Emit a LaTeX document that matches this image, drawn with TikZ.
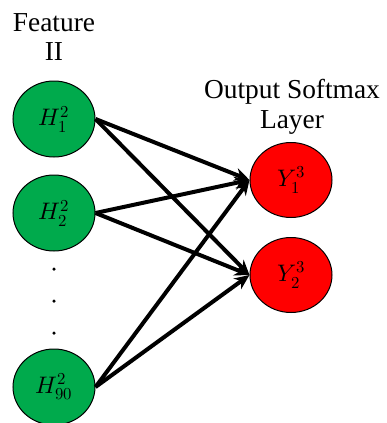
\documentclass[tikz,border=0pt]{standalone}
\usepackage{fontspec}
\usepackage{unicode-math}
\setmainfont{Liberation Serif}
\setmathfont{Latin Modern Math}
\usetikzlibrary{shapes.geometric,arrows.meta}
\begin{document}
\begin{tikzpicture}[x=1bp,y=-1bp,
  hid/.style={ellipse,draw=black,line width=1bp,fill={rgb,255:red,0;green,170;blue,76},minimum width=82bp,minimum height=76bp,inner sep=0pt,font=\fontsize{24}{26}\selectfont},
  outn/.style={ellipse,draw=black,line width=1bp,fill={rgb,255:red,255;green,0;blue,0},minimum width=82bp,minimum height=75bp,inner sep=0pt,font=\fontsize{24}{26}\selectfont},
  lbl/.style={align=center,font=\fontsize{27.5}{30}\selectfont},
  conn/.style={line width=4bp,-{Stealth[length=15bp,width=13bp]}},
  dot/.style={circle,fill=black,inner sep=0pt,minimum size=3.5bp}
]
\useasboundingbox (0,0) rectangle (387,423);
\node[hid] (H1) at (54,119) {$H_1^2$};
\node[hid] (H2) at (54,213) {$H_2^2$};
\node[hid] (H90) at (54,387) {$H_{90}^2$};
\node[outn] (Y1) at (291,180) {$Y_1^3$};
\node[outn] (Y2) at (291,275) {$Y_2^3$};
\node[dot] (d1) at (54,269) {};
\node[dot] (d2) at (54,301) {};
\node[dot] (d3) at (54,333) {};
\node[lbl] (t1) at (54,37) {Feature\\II};
\node[lbl] (t2) at (292,107) {Output Softmax\\Layer};
\foreach \s in {H1,H2,H90}{
  \draw[conn] (\s.east) -- (Y1.west);
  \draw[conn] (\s.east) -- (Y2.west);
}
\end{tikzpicture}
\end{document}
